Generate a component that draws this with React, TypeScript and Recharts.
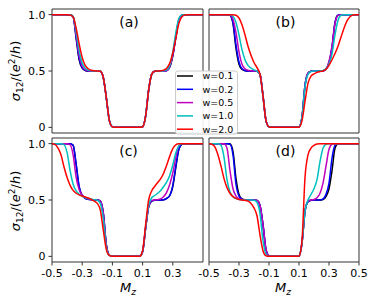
import React from 'react';
import { LineChart, Line, XAxis, YAxis, ReferenceArea } from 'recharts';

// Mz sample positions (the curves are flat at 0 between -0.08 and 0.08)
const MZ = [
  -0.5, -0.48, -0.46, -0.44, -0.42, -0.4, -0.38, -0.36, -0.34, -0.32, -0.3,
  -0.28, -0.26, -0.24, -0.22, -0.2, -0.18, -0.16, -0.14, -0.12, -0.1, -0.08,
  0.08, 0.1, 0.12, 0.14, 0.16, 0.18, 0.2, 0.22, 0.24, 0.26, 0.28, 0.3,
  0.32, 0.34, 0.36, 0.38, 0.4, 0.42, 0.44, 0.46, 0.48, 0.5,
];

// ---- panel (a) ----
const A_W01 = [
  1, 1, 1, 1, 1, 1, 0.998, 0.98, 0.79, 0.6, 0.525, 0.505, 0.5, 0.5, 0.5, 0.5, 0.497, 0.44, 0.26, 0.06, 0.005, 0,
  0, 0.005, 0.1, 0.33, 0.47, 0.497, 0.5, 0.5, 0.5, 0.504, 0.535, 0.635, 0.8, 0.95, 0.995, 1, 1, 1, 1, 1, 1, 1,
];
const A_W02 = [
  1, 1, 1, 1, 1, 1, 0.998, 0.98, 0.8, 0.61, 0.53, 0.507, 0.501, 0.5, 0.5, 0.5, 0.497, 0.44, 0.26, 0.06, 0.005, 0,
  0, 0.005, 0.1, 0.33, 0.47, 0.497, 0.5, 0.5, 0.5, 0.505, 0.54, 0.64, 0.8, 0.95, 0.995, 1, 1, 1, 1, 1, 1, 1,
];
const A_W05 = [
  1, 1, 1, 1, 1, 1, 0.998, 0.98, 0.82, 0.64, 0.545, 0.512, 0.503, 0.5, 0.5, 0.5, 0.497, 0.44, 0.26, 0.06, 0.005, 0,
  0, 0.005, 0.1, 0.33, 0.47, 0.497, 0.5, 0.5, 0.5, 0.505, 0.54, 0.645, 0.81, 0.955, 0.995, 1, 1, 1, 1, 1, 1, 1,
];
const A_W10 = [
  1, 1, 1, 1, 1, 1, 0.998, 0.985, 0.85, 0.68, 0.57, 0.525, 0.508, 0.502, 0.5, 0.5, 0.497, 0.44, 0.26, 0.06, 0.005, 0,
  0, 0.005, 0.1, 0.33, 0.47, 0.497, 0.5, 0.5, 0.502, 0.51, 0.55, 0.67, 0.84, 0.965, 0.997, 1, 1, 1, 1, 1, 1, 1,
];
const A_W20 = [
  1, 1, 1, 1, 1, 1, 0.997, 0.98, 0.88, 0.74, 0.62, 0.55, 0.52, 0.507, 0.502, 0.5, 0.497, 0.44, 0.26, 0.06, 0.005, 0,
  0, 0.005, 0.1, 0.33, 0.47, 0.497, 0.5, 0.502, 0.508, 0.525, 0.57, 0.66, 0.79, 0.92, 0.98, 0.997, 1, 1, 1, 1, 1, 1,
];

// ---- panel (b) ----
const B_W01 = [
  1, 1, 1, 1, 1, 1, 1, 0.995, 0.92, 0.7, 0.56, 0.515, 0.503, 0.5, 0.5, 0.5, 0.498, 0.47, 0.28, 0.06, 0.005, 0,
  0, 0.003, 0.09, 0.37, 0.48, 0.498, 0.5, 0.5, 0.5, 0.501, 0.515, 0.57, 0.7, 0.93, 0.995, 1, 1, 1, 1, 1, 1, 1,
];
const B_W02 = [
  1, 1, 1, 1, 1, 1, 1, 0.995, 0.93, 0.73, 0.58, 0.52, 0.505, 0.5, 0.5, 0.5, 0.498, 0.47, 0.28, 0.06, 0.005, 0,
  0, 0.003, 0.09, 0.37, 0.48, 0.498, 0.5, 0.5, 0.5, 0.501, 0.515, 0.575, 0.71, 0.93, 0.995, 1, 1, 1, 1, 1, 1, 1,
];
const B_W05 = [
  1, 1, 1, 1, 1, 1, 1, 0.998, 0.96, 0.84, 0.67, 0.56, 0.52, 0.506, 0.502, 0.5, 0.498, 0.47, 0.28, 0.06, 0.005, 0,
  0, 0.003, 0.09, 0.37, 0.48, 0.498, 0.5, 0.5, 0.5, 0.502, 0.52, 0.585, 0.72, 0.92, 0.993, 1, 1, 1, 1, 1, 1, 1,
];
const B_W10 = [
  1, 1, 1, 1, 1, 1, 1, 0.999, 0.985, 0.93, 0.82, 0.69, 0.6, 0.55, 0.525, 0.51, 0.5, 0.465, 0.28, 0.06, 0.005, 0,
  0, 0.003, 0.09, 0.36, 0.47, 0.495, 0.5, 0.5, 0.5, 0.505, 0.52, 0.56, 0.65, 0.82, 0.95, 0.995, 1, 1, 1, 1, 1, 1,
];
const B_W20 = [
  1, 1, 1, 1, 1, 1, 1, 1, 1, 0.995, 0.97, 0.91, 0.82, 0.72, 0.64, 0.575, 0.53, 0.47, 0.28, 0.06, 0.005, 0,
  0, 0.002, 0.06, 0.23, 0.39, 0.455, 0.475, 0.488, 0.495, 0.5, 0.515, 0.55, 0.6, 0.655, 0.72, 0.8, 0.88, 0.945, 0.982, 0.997, 1, 1,
];

// ---- panel (c) ----
const C_W01 = [
  1, 1, 1, 1, 1, 1, 1, 0.985, 0.81, 0.61, 0.54, 0.515, 0.507, 0.503, 0.5, 0.5, 0.49, 0.38, 0.1, 0.01, 0, 0,
  0, 0.04, 0.25, 0.44, 0.49, 0.498, 0.5, 0.5, 0.503, 0.515, 0.54, 0.62, 0.79, 0.95, 0.995, 1, 1, 1, 1, 1, 1, 1,
];
const C_W02 = [
  1, 1, 1, 1, 1, 1, 1, 0.985, 0.82, 0.62, 0.54, 0.515, 0.507, 0.503, 0.5, 0.5, 0.49, 0.38, 0.1, 0.01, 0, 0,
  0, 0.04, 0.25, 0.44, 0.49, 0.498, 0.5, 0.5, 0.503, 0.515, 0.54, 0.63, 0.8, 0.95, 0.995, 1, 1, 1, 1, 1, 1, 1,
];
const C_W05 = [
  1, 1, 1, 1, 1, 1, 0.99, 0.9, 0.7, 0.59, 0.545, 0.52, 0.51, 0.505, 0.502, 0.5, 0.49, 0.38, 0.1, 0.01, 0, 0,
  0, 0.04, 0.25, 0.44, 0.495, 0.5, 0.503, 0.51, 0.53, 0.57, 0.64, 0.74, 0.88, 0.98, 0.998, 1, 1, 1, 1, 1, 1, 1,
];
const C_W10 = [
  1, 1, 1, 1, 0.99, 0.92, 0.76, 0.64, 0.58, 0.55, 0.535, 0.522, 0.513, 0.507, 0.503, 0.498, 0.47, 0.33, 0.08, 0.008, 0, 0,
  0, 0.045, 0.26, 0.45, 0.52, 0.54, 0.56, 0.585, 0.62, 0.66, 0.72, 0.81, 0.92, 0.98, 0.999, 1, 1, 1, 1, 1, 1, 1,
];
const C_W20 = [
  1, 0.993, 0.96, 0.9, 0.79, 0.7, 0.63, 0.585, 0.56, 0.545, 0.535, 0.527, 0.518, 0.505, 0.49, 0.47, 0.41, 0.23, 0.06, 0.008, 0, 0,
  0, 0.05, 0.28, 0.5, 0.58, 0.62, 0.655, 0.69, 0.74, 0.81, 0.89, 0.955, 0.99, 0.999, 1, 1, 1, 1, 1, 1, 1, 1,
];

// ---- panel (d) ----
const D_W01 = [
  1, 1, 1, 1, 1, 1, 1, 0.998, 0.93, 0.69, 0.55, 0.51, 0.502, 0.5, 0.5, 0.5, 0.495, 0.45, 0.28, 0.06, 0.005, 0,
  0, 0.003, 0.12, 0.4, 0.485, 0.498, 0.5, 0.5, 0.5, 0.505, 0.53, 0.6, 0.76, 0.96, 0.998, 1, 1, 1, 1, 1, 1, 1,
];
const D_W02 = [
  1, 1, 1, 1, 1, 1, 1, 0.995, 0.9, 0.64, 0.535, 0.508, 0.501, 0.5, 0.5, 0.5, 0.495, 0.45, 0.28, 0.06, 0.005, 0,
  0, 0.003, 0.12, 0.4, 0.485, 0.498, 0.5, 0.5, 0.5, 0.51, 0.55, 0.65, 0.87, 0.985, 1, 1, 1, 1, 1, 1, 1, 1,
];
const D_W05 = [
  1, 1, 1, 1, 1, 1, 0.96, 0.76, 0.6, 0.535, 0.512, 0.503, 0.5, 0.5, 0.5, 0.5, 0.495, 0.45, 0.28, 0.06, 0.005, 0,
  0, 0.003, 0.12, 0.4, 0.49, 0.5, 0.505, 0.52, 0.56, 0.65, 0.8, 0.95, 0.995, 1, 1, 1, 1, 1, 1, 1, 1, 1,
];
const D_W10 = [
  1, 1, 1, 1, 0.985, 0.88, 0.68, 0.57, 0.53, 0.512, 0.505, 0.5, 0.5, 0.5, 0.5, 0.498, 0.48, 0.38, 0.14, 0.02, 0, 0,
  0, 0.003, 0.12, 0.4, 0.5, 0.55, 0.6, 0.68, 0.84, 0.96, 0.995, 1, 1, 1, 1, 1, 1, 1, 1, 1, 1, 1,
];
const D_W20 = [
  1, 0.995, 0.97, 0.9, 0.8, 0.69, 0.61, 0.56, 0.53, 0.515, 0.505, 0.5, 0.497, 0.49, 0.47, 0.43, 0.36, 0.19, 0.05, 0.005, 0, 0,
  0, 0.003, 0.14, 0.7, 0.9, 0.96, 0.985, 0.997, 1, 1, 1, 1, 1, 1, 1, 1, 1, 1, 1, 1, 1, 1,
];

const SERIES = [
  { key: 'w01', name: 'w=0.1', color: '#000000' },
  { key: 'w02', name: 'w=0.2', color: '#0000ff' },
  { key: 'w05', name: 'w=0.5', color: '#bf00bf' },
  { key: 'w10', name: 'w=1.0', color: '#00bfbf' },
  { key: 'w20', name: 'w=2.0', color: '#ff0000' },
];

const X_TICKS_FULL = [-0.5, -0.3, -0.1, 0.1, 0.3, 0.5];
const X_TICKS_LEFT = [-0.5, -0.3, -0.1, 0.1, 0.3];
const Y_TICKS = [0, 0.5, 1];

function build(cols: number[][]) {
  return MZ.map((x, i) => ({
    x,
    w01: cols[0][i],
    w02: cols[1][i],
    w05: cols[2][i],
    w10: cols[3][i],
    w20: cols[4][i],
  }));
}

const DATA_A = build([A_W01, A_W02, A_W05, A_W10, A_W20]);
const DATA_B = build([B_W01, B_W02, B_W05, B_W10, B_W20]);
const DATA_C = build([C_W01, C_W02, C_W05, C_W10, C_W20]);
const DATA_D = build([D_W01, D_W02, D_W05, D_W10, D_W20]);

const W = 374;
const H = 303;
const FONT = 'DejaVu Sans';
const FRAME = '#333333';

type Rect = { left: number; right: number; top: number; bottom: number };

function Panel(props: { data: any[]; rect: Rect; showX: boolean; showY: boolean; xTicks: number[] }) {
  const { data, rect, showX, showY, xTicks } = props;
  const xAxisH = 30;
  const yAxisW = 40;
  const margin = {
    left: rect.left - (showY ? yAxisW : 0),
    top: rect.top,
    right: W - rect.right,
    bottom: H - rect.bottom - (showX ? xAxisH : 0),
  };
  return (
    <div style={{ position: 'absolute', left: 0, top: 0 }}>
      <LineChart width={W} height={H} data={data} margin={margin}>
        <XAxis
          dataKey="x"
          type="number"
          domain={[-0.5, 0.5]}
          ticks={xTicks}
          interval={0}
          hide={!showX}
          height={xAxisH}
          allowDataOverflow
          axisLine={false}
          tickLine={{ stroke: FRAME }}
          tickSize={3.5}
          tickMargin={4}
          tick={{ fontSize: 11, fill: '#000', fontFamily: FONT }}
        />
        <YAxis
          type="number"
          domain={[-0.05, 1.05]}
          ticks={Y_TICKS}
          interval={0}
          hide={!showY}
          width={yAxisW}
          allowDataOverflow
          axisLine={false}
          tickLine={{ stroke: FRAME }}
          tickSize={3.5}
          tickMargin={3}
          tick={{ fontSize: 11, fill: '#000', fontFamily: FONT }}
          tickFormatter={(v: number) => (v === 1 ? '1.0' : v === 0.5 ? '0.5' : '0')}
        />
        {SERIES.map((s) => (
          <Line
            key={s.key}
            dataKey={s.key}
            name={s.name}
            stroke={s.color}
            strokeWidth={1.5}
            dot={false}
            type="monotone"
            isAnimationActive={false}
          />
        ))}
        <ReferenceArea
          x1={-0.5}
          x2={0.5}
          y1={-0.05}
          y2={1.05}
          fill="none"
          fillOpacity={0}
          stroke={FRAME}
          strokeWidth={1}
          strokeOpacity={1}
          ifOverflow="visible"
        />
      </LineChart>
    </div>
  );
}

function YLabel(props: { cy: number }) {
  const { cy } = props;
  return (
    <text
      transform={`translate(20, ${cy}) rotate(-90)`}
      textAnchor="middle"
      fontFamily={FONT}
      fontSize={13}
      fill="#000"
    >
      <tspan fontStyle="italic">σ</tspan>
      <tspan fontSize={9} dy={3}>12</tspan>
      <tspan dy={-3}>/(</tspan>
      <tspan fontStyle="italic">e</tspan>
      <tspan fontSize={9} dy={-5}>2</tspan>
      <tspan dy={5}>/</tspan>
      <tspan fontStyle="italic">h</tspan>
      <tspan>)</tspan>
    </text>
  );
}

function XLabel(props: { cx: number }) {
  return (
    <text x={props.cx} y={291.5} textAnchor="middle" fontFamily={FONT} fontSize={13} fill="#000">
      <tspan fontStyle="italic">M</tspan>
      <tspan fontStyle="italic" fontSize={9} dy={3}>z</tspan>
    </text>
  );
}

const PANEL_LETTERS = [
  { text: '(a)', x: 129, y: 26.5 },
  { text: '(b)', x: 285.5, y: 26.5 },
  { text: '(c)', x: 128.5, y: 155.5 },
  { text: '(d)', x: 285.5, y: 155.5 },
];

export default function App() {
  return (
    <div style={{ position: 'absolute', left: 0, top: 0, width: W, height: H, background: '#fff' }}>
      <Panel data={DATA_A} rect={{ left: 52, right: 203, top: 9, bottom: 133 }} showX={false} showY={true} xTicks={X_TICKS_FULL} />
      <Panel data={DATA_B} rect={{ left: 209, right: 359, top: 9, bottom: 133 }} showX={false} showY={false} xTicks={X_TICKS_FULL} />
      <Panel data={DATA_C} rect={{ left: 52, right: 203, top: 138, bottom: 262 }} showX={true} showY={true} xTicks={X_TICKS_LEFT} />
      <Panel data={DATA_D} rect={{ left: 209, right: 359, top: 138, bottom: 262 }} showX={true} showY={false} xTicks={X_TICKS_FULL} />
      <svg width={W} height={H} style={{ position: 'absolute', left: 0, top: 0, pointerEvents: 'none' }}>
        {PANEL_LETTERS.map((p) => (
          <text key={p.text} x={p.x} y={p.y} textAnchor="middle" fontFamily={FONT} fontSize={14} fill="#000">
            {p.text}
          </text>
        ))}
        <YLabel cy={71} />
        <YLabel cy={201} />
        <XLabel cx={128} />
        <XLabel cx={283} />
        <rect x={175.5} y={71} width={62} height={63} rx={2.5} fill="#fff" fillOpacity={0.9} stroke="#cccccc" strokeWidth={1} />
        {SERIES.map((s, i) => {
          const y = 76 + i * 13.3;
          return (
            <g key={s.key}>
              <line x1={177} x2={193} y1={y} y2={y} stroke={s.color} strokeWidth={1.5} />
              <text x={202.5} y={y + 3.3} fontFamily={FONT} fontSize={9.5} fill="#000">
                {s.name}
              </text>
            </g>
          );
        })}
      </svg>
    </div>
  );
}
